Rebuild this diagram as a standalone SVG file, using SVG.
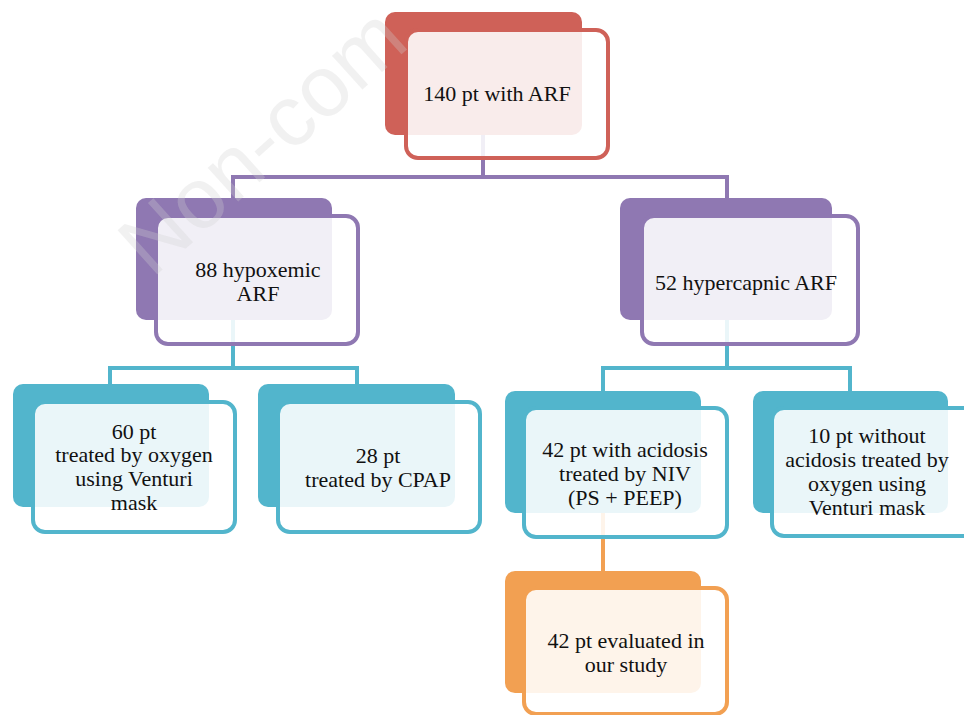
<svg xmlns="http://www.w3.org/2000/svg" width="964" height="715" viewBox="0 0 964 715">
<style>
.t{font-family:'Liberation Serif',Tinos,'Times New Roman','DejaVu Serif','Noto Serif',serif;font-size:22px;fill:#111;text-anchor:middle}
.front{fill:#fff;fill-opacity:0.88;stroke-width:4}
.red .back{fill:#cf6158}.red .front{stroke:#cf6158}
.pur .back{fill:#8f78b2}.pur .front{stroke:#8f78b2}
.cya .back{fill:#52b5cc}.cya .front{stroke:#52b5cc}
.ora .back{fill:#f2a052}.ora .front{stroke:#f2a052}
.c{fill:none;stroke-width:4}
.wm{font-family:'Liberation Sans',Arial,sans-serif;font-size:86px;fill:#d0d0d0;fill-opacity:0.3}
</style>
<rect width="964" height="715" fill="#fff"/>
<g id="connectors">
<path class="c" stroke="#8f78b2" d="M483,95 V177 M233,203 V177 H727 V200"/>
<path class="c" stroke="#52b5cc" d="M233,280 V368 M110,387 V368 H357 V387"/>
<path class="c" stroke="#52b5cc" d="M727,280 V368 M603,392 V368 H850 V392"/>
<path class="c" stroke="#f2a052" d="M603,470 V575"/>
</g>
<g id="n1" class="red">
<rect class="back" x="385" y="12" width="197" height="123" rx="10"/>
<rect class="front" x="406" y="30" width="202" height="128" rx="12"/>
<text class="t" x="497" y="101">140 pt with ARF</text>
</g>
<g id="n2" class="pur">
<rect class="back" x="136" y="198" width="196" height="122" rx="10"/>
<rect class="front" x="156" y="216" width="202" height="128" rx="12"/>
<text class="t" x="258" y="277">88 hypoxemic</text>
<text class="t" x="258" y="301">ARF</text>
</g>
<g id="n3" class="pur">
<rect class="back" x="620" y="198" width="212" height="122" rx="10"/>
<rect class="front" x="642" y="216" width="216" height="128" rx="12"/>
<text class="t" x="746" y="290">52 hypercapnic ARF</text>
</g>
<g id="n4" class="cya">
<rect class="back" x="13" y="384" width="196" height="123" rx="10"/>
<rect class="front" x="33" y="402" width="202" height="130" rx="12"/>
<text class="t" x="134" y="439">60 pt</text>
<text class="t" x="134" y="462">treated by oxygen</text>
<text class="t" x="134" y="486">using Venturi</text>
<text class="t" x="134" y="510">mask</text>
</g>
<g id="n5" class="cya">
<rect class="back" x="258" y="384" width="197" height="123" rx="10"/>
<rect class="front" x="278" y="402" width="202" height="130" rx="12"/>
<text class="t" x="378" y="463">28 pt</text>
<text class="t" x="378" y="487">treated by CPAP</text>
</g>
<g id="n6" class="cya">
<rect class="back" x="505" y="391" width="196" height="122" rx="10"/>
<rect class="front" x="524" y="408" width="203" height="129" rx="12"/>
<text class="t" x="625" y="457">42 pt with acidosis</text>
<text class="t" x="625" y="481">treated by NIV</text>
<text class="t" x="625" y="505">(PS + PEEP)</text>
</g>
<g id="n7" class="cya">
<rect class="back" x="753" y="391" width="195" height="122" rx="10"/>
<rect class="front" x="772" y="408" width="203" height="128" rx="12"/>
<text class="t" x="867" y="443">10 pt without</text>
<text class="t" x="867" y="467">acidosis treated by</text>
<text class="t" x="867" y="491">oxygen using</text>
<text class="t" x="867" y="515">Venturi mask</text>
</g>
<g id="n8" class="ora">
<rect class="back" x="505" y="571" width="196" height="122" rx="10"/>
<rect class="front" x="524" y="588" width="203" height="126" rx="12"/>
<text class="t" x="626" y="648">42 pt evaluated in</text>
<text class="t" x="626" y="672">our study</text>
</g>
<text class="wm" transform="translate(152,279) rotate(-42)">Non-com</text>
</svg>
